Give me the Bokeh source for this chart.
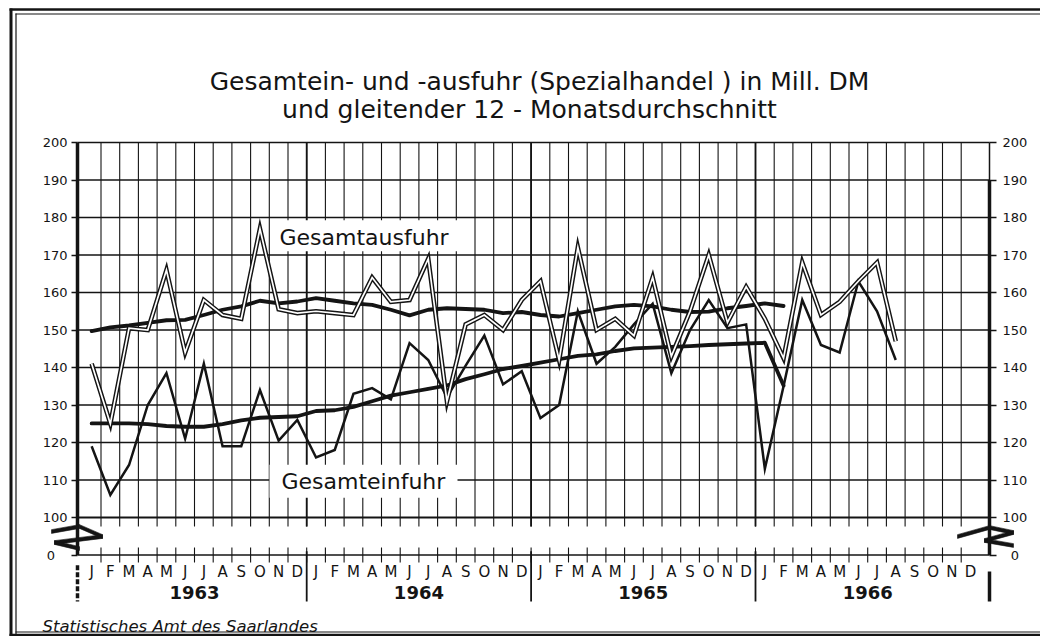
from bokeh.plotting import figure
from bokeh.models import Range1d, LinearAxis, FixedTicker
from bokeh.core.properties import value
from bokeh.embed import file_html
from bokeh.resources import INLINE

# ---------------- data ----------------
months = ["J", "F", "M", "A", "M", "J", "J", "A", "S", "O", "N", "D"]
years = ["1963", "1964", "1965", "1966"]

# Gesamtausfuhr, monthly (Jan 1963 - Aug 1966), Mill. DM
ausfuhr = [141, 125, 150.5, 150, 166, 144, 158, 154, 153, 177, 155.5, 154.5,
           155, 154.5, 154, 164, 157.5, 158, 169, 131, 151.5, 154, 150, 158,
           163, 142, 172, 150, 153, 148.5, 164, 143, 155, 170, 152, 161.5,
           153, 142.5, 168, 154, 157.5, 163, 168, 147]
# Gesamteinfuhr, monthly
einfuhr = [119, 106, 114, 130, 138.5, 121, 141, 119, 119, 134, 120.5, 126,
           116, 118, 133, 134.5, 131.5, 146.5, 142, 132, 140.5, 148.5, 135.5, 139,
           126.5, 130, 155, 141, 145.5, 151.5, 157, 138.5, 150, 158, 150.5, 151.5,
           113, 135, 158, 146, 144, 163, 155, 142]
# gleitender 12-Monatsdurchschnitt (Jan 1963 - Feb 1966)
ausfuhr_avg = [149.7, 150.7, 151.2, 151.9, 152.6, 152.7, 154, 155.4, 156.3, 157.8, 157.1, 157.6,
               158.5, 157.8, 157.1, 156.7, 155.4, 153.9, 155.4, 155.8, 155.6, 155.4, 154.5, 154.8,
               154, 153.6, 154.5, 155.4, 156.3, 156.7, 156.3, 155.4, 154.8, 154.9, 155.8, 156.4,
               157.1, 156.4]
einfuhr_avg = [125.1, 125.1, 125.1, 124.9, 124.4, 124.2, 124.2, 124.9, 125.9, 126.6, 126.8, 127,
               128.4, 128.6, 129.5, 131, 132.5, 133.4, 134.3, 135.2, 136.9, 138.2, 139.6, 140.4,
               141.3, 142.2, 143.1, 143.5, 144.4, 145.1, 145.3, 145.5, 145.7, 146, 146.2, 146.4,
               146.6, 135.2]

y_ticks = [90, 100, 110, 120, 130, 140, 150, 160, 170, 180, 190, 200]
ZERO_POS = 90  # broken axis: the value 0 is drawn at this position

# ---------------- layout helpers (picture pixel -> data) ----------------
X0PX, XSTEP = 82.8, 18.7     # pixel of month boundary 0, pixels per month
Y200PX, YSTEP = 143.0, 3.75  # pixel of value 200, pixels per unit
ORIGIN = 1                   # where the canvas lands in the picture

def px(x):
    return (x - X0PX) / XSTEP

def py(y):
    return 200 - (y - Y200PX) / YSTEP

INK = "#141414"
FONT = "DejaVu Sans"

W, H = 1040, 636
x_lo, x_hi = px(ORIGIN), px(ORIGIN + W)
y_lo, y_hi = py(ORIGIN + H), py(ORIGIN)
XL, XR = px(78), px(990)  # left / right axis lines

p = figure(width=W, height=H, x_range=Range1d(x_lo, x_hi), y_range=Range1d(y_lo, y_hi),
           x_axis_type=None, y_axis_type=None, title=None,
           output_backend="svg", toolbar_location=None, min_border=0)
p.outline_line_color = None
p.background_fill_color = "white"
p.border_fill_color = "white"

def make_axis(side, loc):
    labels = {t: str(t) for t in y_ticks}
    labels[ZERO_POS] = "0\u00a0\u00a0\u00a0" if side == "left" else "\u00a0\u00a00"
    ax = LinearAxis(ticker=FixedTicker(ticks=y_ticks), major_label_overrides=labels,
                    fixed_location=loc,
                    axis_line_color=None, major_tick_in=0, major_tick_out=6 if side == "left" else 7,
                    major_tick_line_color=INK, major_tick_line_width=1.5,
                    minor_tick_line_color=None,
                    major_label_text_font=FONT, major_label_text_font_size="13px",
                    major_label_text_color=INK,
                    major_label_standoff=4 if side == "left" else 6)
    p.add_layout(ax, side)

make_axis("left", XL)
make_axis("right", XR)

# outer frame of the sheet (double line at left and top)
p.segment(x0=[px(11.5), px(16.5)], x1=[px(11.5), px(16.5)], y0=[py(9), py(14)], y1=[py(640), py(636)],
          line_color=INK, line_width=[3, 1.2])
p.segment(x0=[px(10), px(16)], x1=[x_hi, x_hi], y0=[py(10), py(14.5)], y1=[py(10), py(14.5)],
          line_color=INK, line_width=[2.5, 1.2])
p.segment(x0=[px(10), px(16)], x1=[x_hi, x_hi], y0=[py(635.5), py(632.5)], y1=[py(635.5), py(632.5)],
          line_color=INK, line_width=[2.5, 1.0])

# grid
vk = list(range(1, 48))
p.segment(x0=vk, x1=vk, y0=[97.6] * len(vk), y1=[200] * len(vk), line_color=INK, line_width=1.1)
yr = [12, 24, 36]
p.segment(x0=yr, x1=yr, y0=[97.6] * 3, y1=[200] * 3, line_color=INK, line_width=1.8)
p.segment(x0=yr, x1=yr, y0=[91] * 3, y1=[77.6] * 3, line_color=INK, line_width=1.8)
hy = list(range(110, 200, 10))
p.segment(x0=[XL] * len(hy), x1=[XR] * len(hy), y0=hy, y1=hy, line_color=INK, line_width=1.3)
p.segment(x0=[XL], x1=[XR], y0=[200], y1=[200], line_color=INK, line_width=1.5)
p.segment(x0=[XL], x1=[XR], y0=[100], y1=[100], line_color=INK, line_width=2.2)
# zero line with month ticks
p.segment(x0=[XL], x1=[XR], y0=[ZERO_POS], y1=[ZERO_POS], line_color=INK, line_width=1.6)
p.segment(x0=vk, x1=vk, y0=[ZERO_POS - 2] * len(vk), y1=[ZERO_POS + 2] * len(vk), line_color=INK, line_width=1.1)
# axis lines
p.segment(x0=[XL], x1=[XL], y0=[200], y1=[ZERO_POS], line_color=INK, line_width=3.5)
p.segment(x0=[XL], x1=[XL], y0=[87.3], y1=[77.6], line_color=INK, line_width=3.5, line_dash="5 2")
p.segment(x0=[XR], x1=[XR], y0=[200], y1=[190], line_color=INK, line_width=1.5)
p.segment(x0=[XR], x1=[XR], y0=[190], y1=[ZERO_POS], line_color=INK, line_width=3.5)
p.segment(x0=[XR], x1=[XR], y0=[85.6], y1=[77.6], line_color=INK, line_width=3.5)

# white boxes behind the series labels
p.quad(left=[px(272), px(270)], right=[px(458), px(458)], bottom=[171.0, 105.3], top=[179.3, 114.1],
       fill_color="white", line_color=None)

# data lines
xa = [i + 0.5 for i in range(len(ausfuhr))]
xe = [i + 0.5 for i in range(len(einfuhr))]
xaa = [i + 0.5 for i in range(len(ausfuhr_avg))]
xea = [i + 0.5 for i in range(len(einfuhr_avg))]
p.line(xaa, ausfuhr_avg, line_color=INK, line_width=3.8, line_join="round", line_cap="round")
p.line(xea, einfuhr_avg, line_color=INK, line_width=3.8, line_join="round", line_cap="round")
p.line(xe, einfuhr, line_color=INK, line_width=2.5, line_join="miter")
p.line(xa, ausfuhr, line_color=INK, line_width=4.6, line_join="miter")
p.line(xa, ausfuhr, line_color="white", line_width=1.7, line_join="miter")

# texts
p.text(x=[px(540)], y=[py(82)], text=["Gesamtein- und -ausfuhr (Spezialhandel ) in Mill. DM"],
       text_font=value(FONT), text_font_size="25px", text_color=INK,
       text_align="center", text_baseline="middle")
p.text(x=[px(530)], y=[py(110)], text=["und gleitender 12 - Monatsdurchschnitt"],
       text_font=value(FONT), text_font_size="25px", text_color=INK,
       text_align="center", text_baseline="middle")
p.text(x=[px(280), px(282)], y=[py(238), py(482)], text=["Gesamtausfuhr", "Gesamteinfuhr"],
       text_font=value(FONT), text_font_size="22px", text_color=INK,
       text_align="left", text_baseline="middle")

mx = [12 * y + m + 0.5 for y in range(len(years)) for m in range(12)]
mt = [months[m] for y in range(len(years)) for m in range(12)]
p.text(x=mx, y=[py(572)] * len(mx), text=mt, text_font=value(FONT), text_font_size="15px",
       text_color=INK, text_align="center", text_baseline="middle")
p.text(x=[12 * y + 6 for y in range(len(years))], y=[py(593)] * len(years), text=years,
       text_font=value(FONT), text_font_size="18px", text_font_style="bold", text_color=INK,
       text_align="center", text_baseline="middle")
p.text(x=[px(43)], y=[py(627)], text=["Statistisches Amt des Saarlandes"],
       text_font=value(FONT), text_font_size="16.5px", text_font_style="italic",
       text_color=INK, text_align="left", text_baseline="middle")

# axis break marks (zig-zag), as thin filled bands
def band(pts, h=0.5):
    xs, ys = [], []
    for (xa0, ya0), (xa1, ya1) in zip(pts[:-1], pts[1:]):
        xs.append([xa0, xa1, xa1, xa0])
        ys.append([ya0 + h, ya1 + h, ya1 - h, ya0 - h])
    return xs, ys

left_break = [(px(52), py(532)), (px(80), py(527)), (px(103), py(537)), (px(55), py(543)), (px(80), py(549))]
right_break = [(px(958), py(537)), (px(990), py(528)), (px(1014), py(533)), (px(985), py(541)), (px(1014), py(546))]
for pts in (left_break, right_break):
    bx, by = band(pts)
    p.patches(bx, by, fill_color=INK, line_color=INK, line_width=0.6)

open("out.html", "w").write(file_html(p, INLINE))
